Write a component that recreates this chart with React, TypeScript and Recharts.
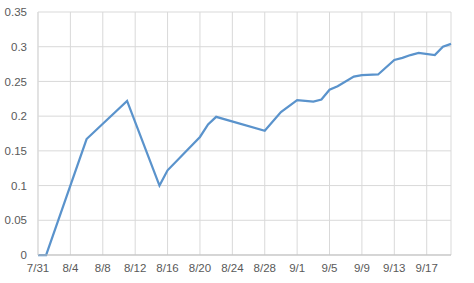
import React from 'react';
import { LineChart, Line, XAxis, YAxis, CartesianGrid } from 'recharts';

// days counted from 7/31
const DAYS = [0, 1, 6, 11, 15, 16, 20, 21, 22, 28, 30, 32, 33, 34, 35, 36, 37, 39, 40, 42, 44, 45, 46, 47, 49, 50, 51];
const VALUES = [0, 0, 0.167, 0.222, 0.1, 0.122, 0.17, 0.188, 0.199, 0.179, 0.206, 0.223, 0.222, 0.221, 0.224, 0.238, 0.243, 0.257, 0.259, 0.26, 0.281, 0.284, 0.288, 0.291, 0.288, 0.3, 0.304];
const X_TICKS = [0, 4, 8, 12, 16, 20, 24, 28, 32, 36, 40, 44, 48];
const X_LABELS = ['7/31', '8/4', '8/8', '8/12', '8/16', '8/20', '8/24', '8/28', '9/1', '9/5', '9/9', '9/13', '9/17'];
const Y_TICKS = [0, 0.05, 0.1, 0.15, 0.2, 0.25, 0.3, 0.35];

const data = DAYS.map((d, i) => ({ day: d, value: VALUES[i] }));

const tickStyle = { fill: '#595959', fontSize: 11.5, fontFamily: 'Liberation Sans' };

export default function App() {
  return (
    <div style={{ position: 'absolute', left: 0, top: 0, background: '#fff' }}>
      <LineChart width={474} height={283} data={data} margin={{ top: 12, right: 23, left: 0, bottom: 0 }}>
        <CartesianGrid stroke="#d9d9d9" strokeWidth={1} />
        <XAxis
          dataKey="day"
          type="number"
          domain={[0, 51]}
          ticks={X_TICKS}
          tickFormatter={(v: number) => X_LABELS[X_TICKS.indexOf(v)]}
          interval={0}
          height={28}
          tickLine={false}
          axisLine={{ stroke: '#bfbfbf' }}
          tick={tickStyle}
          tickMargin={3}
        />
        <YAxis
          type="number"
          domain={[0, 0.35]}
          ticks={Y_TICKS}
          tickFormatter={(v: number) => String(v)}
          width={38}
          tickLine={false}
          axisLine={{ stroke: '#d9d9d9' }}
          tick={tickStyle}
          tickMargin={5}
        />
        <Line
          dataKey="value"
          type="linear"
          stroke="#5A93CC"
          strokeWidth={2.25}
          dot={false}
          isAnimationActive={false}
        />
      </LineChart>
    </div>
  );
}
